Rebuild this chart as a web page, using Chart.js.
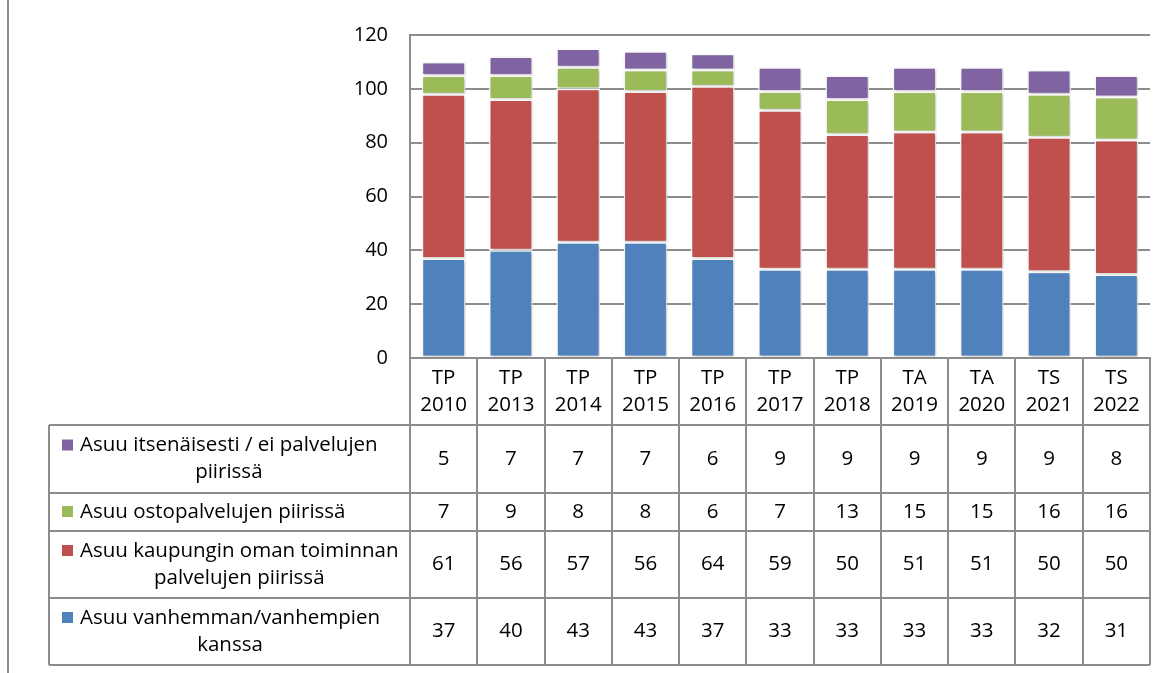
<!DOCTYPE html>
<html>
<head>
<meta charset="utf-8">
<script src="https://cdn.jsdelivr.net/npm/chart.js@4"></script>
<style>
    html, body { margin: 0; padding: 0; background: #fff; }
</style>
</head>
<body>
<canvas id="barChart" width="1171" height="673"></canvas>
<script>
// categories (prefix + year, shown on two lines)
const categories = ["TP 2010", "TP 2013", "TP 2014", "TP 2015", "TP 2016", "TP 2017",
                    "TP 2018", "TA 2019", "TA 2020", "TS 2021", "TS 2022"];

// series, bottom to top of the stack
const vanhempienKanssa = [37, 40, 43, 43, 37, 33, 33, 33, 33, 32, 31];
const kaupunginOma     = [61, 56, 57, 56, 64, 59, 50, 51, 51, 50, 50];
const ostopalvelut     = [7, 9, 8, 8, 6, 7, 13, 15, 15, 16, 16];
const itsenaisesti     = [5, 7, 7, 7, 6, 9, 9, 9, 9, 9, 8];

const seriesNames = [
    "Asuu vanhemman/vanhempien kanssa",
    "Asuu kaupungin oman toiminnan palvelujen piirissä",
    "Asuu ostopalvelujen piirissä",
    "Asuu itsenäisesti / ei palvelujen piirissä",
];
// how the names wrap in the data table
const seriesNameLines = [
    ["Asuu vanhemman/vanhempien", "kanssa"],
    ["Asuu kaupungin oman toiminnan", "palvelujen piirissä"],
    ["Asuu ostopalvelujen piirissä"],
    ["Asuu itsenäisesti / ei palvelujen", "piirissä"],
];

const yTicks = [0, 20, 40, 60, 80, 100, 120];

const colors = ["#4f81bd", "#c0504d", "#9bbb59", "#8064a2"];
const FONT = "Open Sans";
const GRID = "#8c8c8c";

// soft drop shadow under the bars
const barShadow = {
    id: "barShadow",
    beforeDatasetsDraw(chart) {
        const ctx = chart.ctx;
        ctx.save();
        ctx.shadowColor = "rgba(0,0,0,0.28)";
        ctx.shadowBlur = 3;
        ctx.shadowOffsetX = 1;
        ctx.shadowOffsetY = 1;
    },
    afterDatasetsDraw(chart) {
        chart.ctx.restore();
    },
};

// data table under the chart, laid out on the x scale's columns
const dataTable = {
    id: "dataTable",
    afterDraw(chart) {
        const ctx = chart.ctx;
        const area = chart.chartArea;
        const xs = chart.scales.x;
        const n = categories.length;
        const colW = (area.right - area.left) / n;
        const headTop = area.bottom;
        const headBottom = headTop + 67;
        const rowH = [68, 38, 67, 67];
        const tableLeft = 49;
        const tableBottom = headBottom + rowH.reduce((a, b) => a + b, 0);

        ctx.save();
        ctx.strokeStyle = GRID;
        ctx.lineWidth = 2;

        // outer frame line at the left
        ctx.beginPath();
        ctx.moveTo(8, 0);
        ctx.lineTo(8, 673);
        ctx.stroke();

        // column separators
        ctx.beginPath();
        for (let i = 0; i <= n; i++) {
            const px = Math.round(area.left + i * colW);
            ctx.moveTo(px, headTop);
            ctx.lineTo(px, tableBottom);
        }
        ctx.moveTo(tableLeft, headBottom);
        ctx.lineTo(tableLeft, tableBottom);
        // row separators
        let y = headBottom;
        ctx.moveTo(tableLeft, y);
        ctx.lineTo(area.right, y);
        rowH.forEach((h) => {
            y += h;
            ctx.moveTo(tableLeft, y);
            ctx.lineTo(area.right, y);
        });
        ctx.stroke();

        ctx.fillStyle = "#000";
        ctx.font = "20.5px '" + FONT + "'";
        ctx.textBaseline = "middle";
        ctx.textAlign = "center";

        // header: category names
        categories.forEach((c, i) => {
            const cx = xs.getPixelForValue(i);
            const parts = c.split(" ");
            ctx.fillText(parts[0], cx, headTop + 20);
            ctx.fillText(parts[1], cx, headTop + 47);
        });

        // rows, top row is the top of the stack
        const order = [3, 2, 1, 0];
        let top = headBottom;
        order.forEach((d, r) => {
            const h = rowH[r];
            const mid = top + h / 2;
            const lines = seriesNameLines[d];
            const ds = chart.data.datasets[d];

            const l1y = lines.length > 1 ? mid - 13.5 : mid;
            ctx.fillStyle = colors[d];
            ctx.fillRect(62, l1y - 6, 11, 11);

            ctx.fillStyle = "#000";
            ctx.textAlign = "left";
            ctx.fillText(lines[0], 80, l1y);
            if (lines.length > 1) {
                const w = ctx.measureText(lines[0]).width;
                ctx.textAlign = "center";
                ctx.fillText(lines[1], 80 + w / 2, mid + 13.5);
            }

            ctx.textAlign = "center";
            ds.data.forEach((v, i) => {
                ctx.fillText(String(v), xs.getPixelForValue(i), mid);
            });
            top += h;
        });
        ctx.restore();
    },
};

const barCtx = document.getElementById("barChart").getContext("2d");
const datasets = [vanhempienKanssa, kaupunginOma, ostopalvelut, itsenaisesti].map((data, i) => ({
    label: seriesNames[i],
    data: data,
    backgroundColor: colors[i],
    borderColor: "#ffffff",
    borderWidth: 1.5,
    borderSkipped: false,
    barPercentage: 0.65,
    categoryPercentage: 1,
}));

new Chart(barCtx, {
    type: "bar",
    data: { labels: categories, datasets: datasets },
    options: {
        responsive: false,
        animation: false,
        layout: { padding: { top: 35, right: 21, bottom: 248, left: 0 } },
        plugins: {
            legend: { display: false },
            tooltip: { enabled: false },
        },
        scales: {
            x: {
                stacked: true,
                ticks: { display: false },
                grid: { display: false },
                border: { color: GRID, width: 2 },
                afterFit(scale) { scale.height = 67; },
            },
            y: {
                stacked: true,
                min: 0,
                max: 120,
                afterBuildTicks(scale) { scale.ticks = yTicks.map((v) => ({ value: v })); },
                ticks: {
                    padding: 22,
                    color: "#000",
                    font: { family: FONT, size: 20 },
                },
                grid: { color: GRID, lineWidth: 2, drawTicks: false },
                border: { color: GRID, width: 2 },
                afterFit(scale) { scale.width = 410; },
            },
        },
    },
    plugins: [barShadow, dataTable],
});
</script>
</body>
</html>
